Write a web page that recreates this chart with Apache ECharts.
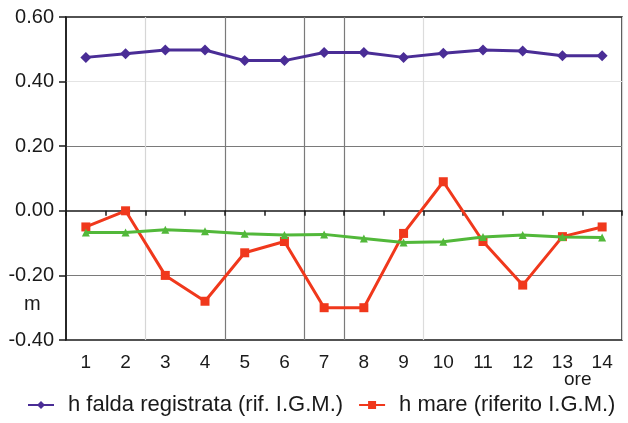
<!DOCTYPE html>
<html>
<head>
<meta charset="utf-8">
<script src="https://cdn.jsdelivr.net/npm/echarts@6/dist/echarts.min.js"></script>
<style>
  html, body { margin: 0; padding: 0; background: #fff; }
  #chart { width: 628px; height: 423px; }
</style>
</head>
<body>
<div id="chart"></div>
<script>
// Hourly readings (ore 1..14), heights in metres referred to I.G.M. datum
const hours = ['1', '2', '3', '4', '5', '6', '7', '8', '9', '10', '11', '12', '13', '14'];
const faldaRegistrata = [0.475, 0.486, 0.498, 0.498, 0.465, 0.465, 0.49, 0.49, 0.475, 0.488, 0.498, 0.495, 0.48, 0.48];
const hMare = [-0.05, 0.0, -0.20, -0.28, -0.13, -0.095, -0.30, -0.30, -0.07, 0.09, -0.095, -0.23, -0.08, -0.05];
const faldaFiltrata = [-0.067, -0.067, -0.059, -0.063, -0.071, -0.075, -0.073, -0.086, -0.098, -0.096, -0.081, -0.075, -0.081, -0.083];
const yTicks = { min: -0.4, max: 0.6, step: 0.2 };

const nameFalda = 'h falda registrata (rif. I.G.M.)';
const nameMare = 'h mare (riferito I.G.M.)';
const font = 'Liberation Sans, Arial, sans-serif';

const chart = echarts.init(document.getElementById('chart'), null, { renderer: 'canvas' });

chart.setOption({
  backgroundColor: '#ffffff',
  animation: false,
  grid: {
    left: 66, right: 6, top: 17, bottom: 83,
    show: true, borderColor: '#1a1a1a', borderWidth: 1.5, backgroundColor: 'transparent'
  },
  xAxis: {
    type: 'category',
    data: hours,
    boundaryGap: true,
    axisLine: { lineStyle: { color: '#1a1a1a', width: 1.5 } },
    axisTick: { show: true, length: 5, lineStyle: { color: '#1a1a1a', width: 1.5 } },
    axisLabel: { color: '#1a1a1a', fontSize: 19, fontFamily: font, margin: 13 },
    splitLine: {
      show: true,
      interval: function (idx) { return idx === 2 || idx === 4 || idx === 6 || idx === 7 || idx === 9; },
      lineStyle: { color: ['#d6d6d6', '#7a7a7a', '#7a7a7a', '#7a7a7a', '#dcdcdc'], width: 1.2 }
    }
  },
  yAxis: {
    type: 'value',
    min: yTicks.min, max: yTicks.max, interval: yTicks.step,
    axisLine: { show: true, lineStyle: { color: '#1a1a1a', width: 1.5 } },
    axisTick: { show: true, length: 7, lineStyle: { color: '#1a1a1a', width: 1.5 } },
    axisLabel: {
      color: '#1a1a1a', fontSize: 20, fontFamily: font, margin: 12,
      formatter: function (v) { return v.toFixed(2); }
    },
    splitLine: {
      show: true,
      lineStyle: { color: ['transparent', '#7a7a7a', 'transparent', '#7a7a7a', '#e4e4e4', 'transparent'], width: 1.2 }
    }
  },
  legend: {
    left: 22, bottom: 2,
    itemWidth: 26, itemHeight: 10, itemGap: 15,
    textStyle: { color: '#1a1a1a', fontSize: 22, fontFamily: font, padding: [0, 0, 0, 9] },
    data: [nameFalda, nameMare]
  },
  graphic: [
    { type: 'text', left: 24, top: 294, style: { text: 'm', fontSize: 20, fontFamily: font, fill: '#1a1a1a' } },
    { type: 'text', left: 564, top: 370, style: { text: 'ore', fontSize: 19, fontFamily: font, fill: '#1a1a1a' } }
  ],
  series: [
    {
      name: nameFalda, type: 'line', data: faldaRegistrata,
      symbol: 'diamond', symbolSize: 11,
      lineStyle: { color: '#4a2d96', width: 3 },
      itemStyle: { color: '#4a2d96' }, z: 4
    },
    {
      name: 'h falda', type: 'line', data: faldaFiltrata,
      symbol: 'triangle', symbolSize: 8,
      lineStyle: { color: '#52b83a', width: 3 },
      itemStyle: { color: '#52b83a' }, z: 3
    },
    {
      name: nameMare, type: 'line', data: hMare,
      symbol: 'rect', symbolSize: 9,
      lineStyle: { color: '#f0381c', width: 3 },
      itemStyle: { color: '#f0381c' }, z: 2
    }
  ]
});
</script>
</body>
</html>
